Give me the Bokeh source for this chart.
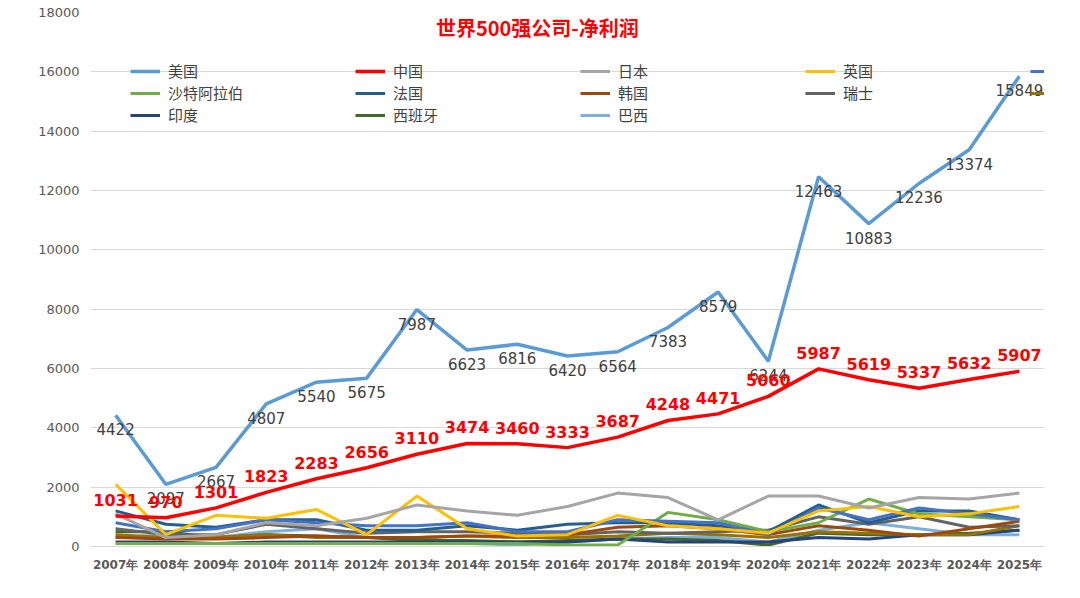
from bokeh.plotting import figure
from bokeh.models import Legend, LegendItem, ColumnDataSource, FixedTicker, Range1d
from bokeh.core.properties import value
from bokeh.embed import file_html
from bokeh.resources import INLINE

years = list(range(2007, 2026))
year_labels = [f"{y}年" for y in years]

usa = [4422,2097,2667,4807,5540,5675,7987,6623,6816,6420,6564,7383,8579,6244,12463,10883,12236,13374,15849]
china = [1031,970,1301,1823,2283,2656,3110,3474,3460,3333,3687,4248,4471,5060,5987,5619,5337,5632,5907]
japan = [1100,300,400,800,700,950,1400,1200,1050,1350,1800,1650,900,1700,1700,1300,1650,1600,1800]
uk = [2100,400,1050,950,1250,400,1700,600,350,400,1050,700,600,450,1200,1350,1000,1100,1350]
germany = [800,500,600,900,800,700,700,800,500,500,900,850,800,400,1300,900,1300,1100,900]
saudi = [100,100,100,100,100,100,100,100,100,50,50,1150,900,500,800,1600,1100,1000,900]
france = [1200,750,650,900,900,550,550,700,550,750,800,800,700,500,1400,800,1200,1200,900]
korea = [300,250,250,300,350,300,300,350,350,400,650,700,600,400,700,550,350,600,850]
swiss = [600,400,400,750,600,450,500,500,450,400,500,450,500,550,1000,750,1000,650,700]
canada = [400,300,300,400,300,300,300,350,300,300,350,450,400,300,500,450,400,400,700]
india = [150,150,100,150,150,150,150,150,150,150,250,150,150,150,300,250,400,400,550]
spain = [500,500,300,400,350,300,200,200,150,200,250,250,200,50,450,400,400,450,550]
brazil = [300,400,300,500,600,300,300,100,50,150,250,300,300,150,550,800,600,400,400]

series = [
    ("美国", usa, "#5B9BD5"), ("中国", china, "#FF0000"), ("日本", japan, "#A5A5A5"),
    ("英国", uk, "#FFC000"), ("德国", germany, "#4472C4"), ("沙特阿拉伯", saudi, "#70AD47"),
    ("法国", france, "#255E91"), ("韩国", korea, "#9E480E"), ("瑞士", swiss, "#636363"),
    ("加拿大", canada, "#997300"), ("印度", india, "#264478"), ("西班牙", spain, "#43682B"),
    ("巴西", brazil, "#7CAFDD"),
]

p = figure(width=1064, height=582, output_backend="svg", toolbar_location=None,
           x_range=Range1d(2006.5, 2025.5), y_range=Range1d(0, 18000),
           min_border_left=90, min_border_right=20, min_border_top=12, min_border_bottom=36)
p.outline_line_color = None
p.xgrid.visible = False
p.ygrid.grid_line_color = "#D9D9D9"
p.yaxis.ticker = FixedTicker(ticks=list(range(0, 18001, 2000)))
p.xaxis.ticker = FixedTicker(ticks=years)
p.xaxis.major_label_overrides = {y: l for y, l in zip(years, year_labels)}
for ax in (p.xaxis, p.yaxis):
    ax.axis_line_color = None
    ax.major_tick_line_color = None
    ax.minor_tick_line_color = None
    ax.major_label_text_color = "#595959"
    ax.major_label_text_font = "DejaVu Sans"
p.xaxis.major_label_text_font_style = "bold"
p.xaxis.major_label_text_font_size = "12px"
p.yaxis.major_label_text_font_size = "13px"
p.xaxis.axis_line_color = "#D9D9D9"

renderers = {}
for name, vals, col in reversed(series):
    renderers[name] = p.line(years, vals, line_color=col,
                             line_width=3.5 if name in ("美国", "中国") else 3)

rows = [series[0:5], series[5:10], series[10:13]]
for i, row in enumerate(rows):
    lg = Legend(items=[LegendItem(label=n, renderers=[renderers[n]]) for n, _, _ in row],
                orientation="horizontal", label_width=187, glyph_width=30,
                label_text_font_size="15px", label_text_font="Noto Sans CJK SC",
                label_text_color="#404040", background_fill_alpha=0, border_line_color=None,
                spacing=0, label_height=16, glyph_height=16, padding=0, margin=0,
                label_standoff=8)
    lg.location = (40, 465 - 22 * i)
    p.add_layout(lg)

src_us = ColumnDataSource(dict(x=years, y=usa, t=[str(v) for v in usa]))
p.text("x", "y", text="t", source=src_us, text_align="center", text_baseline="top",
       y_offset=8, text_color="#404040", text_font_size="15px", text_font=value("DejaVu Sans"))
src_cn = ColumnDataSource(dict(x=years, y=china, t=[str(v) for v in china]))
p.text("x", "y", text="t", source=src_cn, text_align="center", text_baseline="bottom",
       y_offset=-10, text_color="#FF0000", text_font_size="16px", text_font_style="bold",
       text_font=value("DejaVu Sans"))
p.text(x=[2015.4], y=[17500], text=["世界500强公司-净利润"], text_align="center",
       text_baseline="middle", text_color="#FF0000", text_font_size="20px",
       text_font_style="bold", text_font=value("Noto Sans CJK SC"))

open("out.html", "w").write(file_html(p, INLINE))
